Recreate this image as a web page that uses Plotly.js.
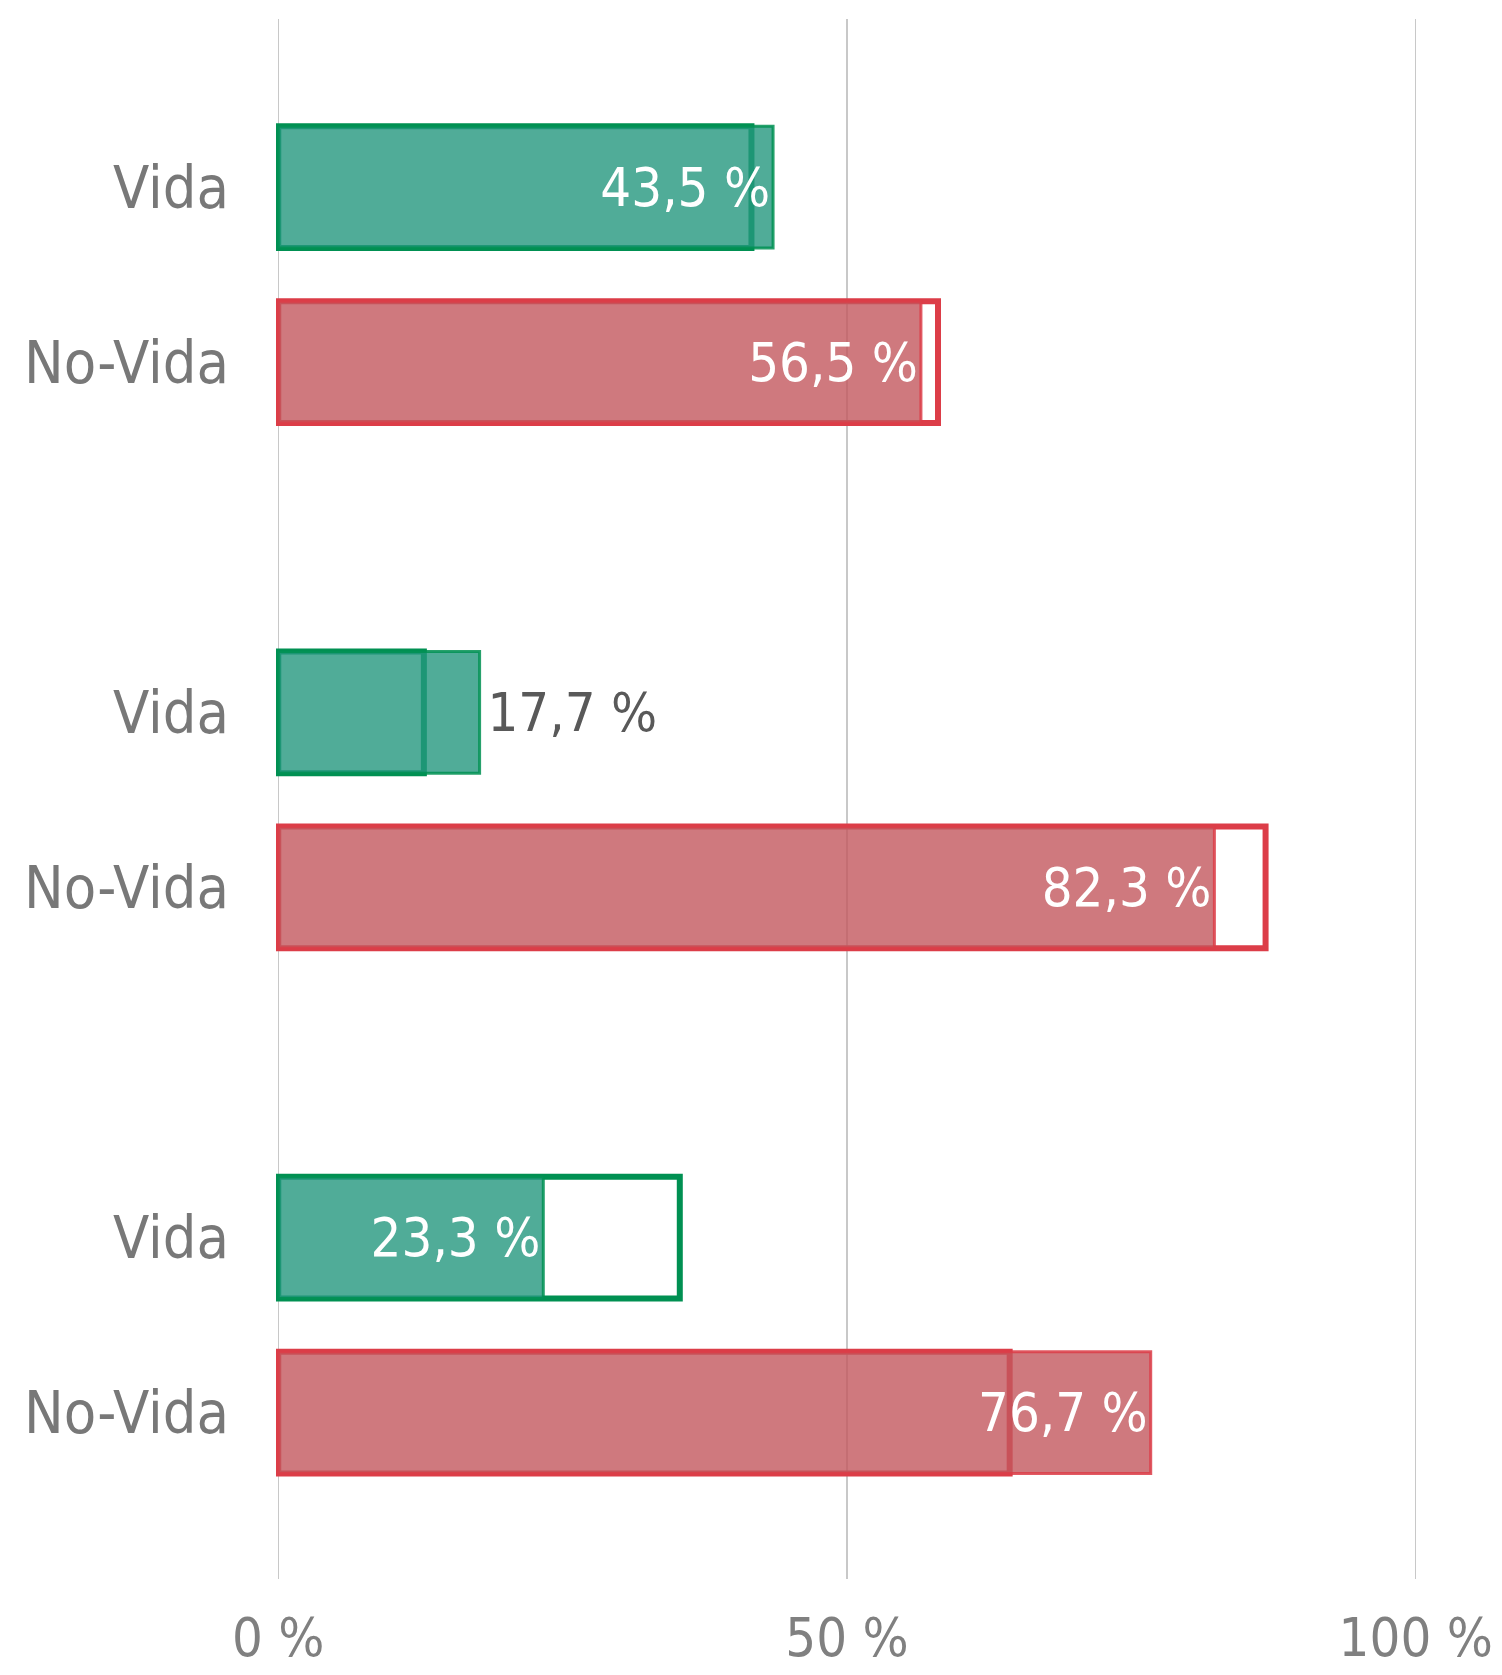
<!DOCTYPE html>
<html>
<head>
<meta charset="utf-8">
<script src="https://cdn.plot.ly/plotly-3.0.1.min.js"></script>
<style>
  html, body { margin: 0; padding: 0; background: #ffffff; }
  #chart { width: 1502px; height: 1675px; }
</style>
</head>
<body>
<div id="chart"></div>
<script>
// ---- data ----
const categories = ['Vida', 'No-Vida', 'Vida', 'No-Vida', 'Vida', 'No-Vida'];
const groupIndex = [0, 0, 1, 1, 2, 2];
const currentShare = [43.5, 56.5, 17.7, 82.3, 23.3, 76.7];   // filled bars (labelled)
const previousShare = [41.6, 58.0, 12.8, 86.8, 35.3, 64.3];  // outlined bars
const xTickValues = [0, 50, 100];
const xTickLabels = ['0 %', '50 %', '100 %'];

// ---- styling ----
const NUM_FONT = '"Liberation Sans Narrow", "DejaVu Sans Condensed", "Arial Narrow", sans-serif';
const CAT_FONT = '"DejaVu Sans Condensed", "Liberation Sans Narrow", sans-serif';
const isVida = categories.map(c => c === 'Vida');
const outlineColor = isVida.map(v => v ? '#009052' : '#DC3D48');
const fillColor = isVida.map(v => v ? 'rgba(36,151,126,0.8)' : 'rgba(195,88,94,0.8)');
const fillLine = isVida.map(v => v ? 'rgba(0,144,82,0.85)' : 'rgba(220,61,72,0.85)');

// slot positions: each group has Vida, No-Vida and an empty slot
const slot = categories.map((c, i) => groupIndex[i] * 3 + (c === 'Vida' ? 0 : 1));

// labels inside the bar end unless bar too short
const isOutside = currentShare.map(v => v < 20);
const textPos = isOutside.map(o => o ? 'outside' : 'inside');
const textTpl = isOutside.map(o => (o ? '\u200A' : '') + '%{x:.1f} %');

const BAR_W = 0.695;

const outlineTrace = {
  type: 'bar',
  orientation: 'h',
  y: slot,
  x: previousShare,
  width: BAR_W,
  marker: { color: 'rgba(0,0,0,0)', line: { color: outlineColor, width: 6 } },
  hoverinfo: 'skip',
  showlegend: false
};

const fillTrace = {
  type: 'bar',
  orientation: 'h',
  y: slot,
  x: currentShare,
  width: BAR_W,
  marker: { color: fillColor, line: { color: fillLine, width: 3 } },
  texttemplate: textTpl,
  textposition: textPos,
  insidetextanchor: 'end',
  constraintext: 'none',
  textangle: 0,
  insidetextfont: { family: NUM_FONT, size: 54, color: '#FFFFFF' },
  outsidetextfont: { family: NUM_FONT, size: 54, color: '#595959' },
  cliponaxis: false,
  showlegend: false
};

const layout = {
  width: 1502,
  height: 1675,
  paper_bgcolor: '#ffffff',
  plot_bgcolor: '#ffffff',
  separators: ', ',
  barmode: 'overlay',
  margin: { l: 276, r: 84, t: 19, b: 96, pad: 0 },
  showlegend: false,
  xaxis: {
    range: [-0.2, 100.2],
    tickvals: xTickValues,
    ticktext: xTickLabels,
    showgrid: true,
    gridcolor: '#C8C8C8',
    gridwidth: 1.5,
    zeroline: false,
    showline: false,
    ticks: '',
    ticklabelstandoff: 22,
    tickfont: { family: NUM_FONT, size: 54, color: '#808080' },
    fixedrange: true
  },
  yaxis: {
    range: [7.95, -0.96],
    tickvals: slot,
    ticktext: categories,
    showgrid: false,
    zeroline: false,
    showline: false,
    ticks: '',
    ticklabelstandoff: 46,
    tickfont: { family: CAT_FONT, size: 59, color: '#787878' },
    fixedrange: true
  }
};

Plotly.newPlot('chart', [outlineTrace, fillTrace], layout, { staticPlot: true });
</script>
</body>
</html>
